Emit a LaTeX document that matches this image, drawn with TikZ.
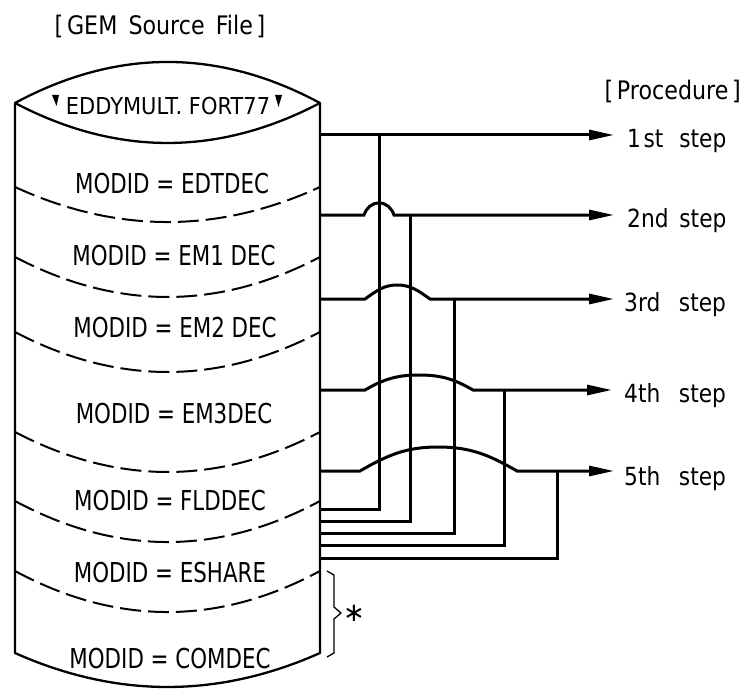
\documentclass[tikz,border=0pt]{standalone}
\usepackage{fontspec}
\setmainfont{DejaVu Sans}
\usepackage{graphicx}
\usetikzlibrary{arrows.meta}
\newcommand\hsq[2]{\scalebox{#1}[1]{#2}}
\tikzset{
  cyl/.style={line width=2.3pt, line join=round},
  divider/.style={line width=2pt, dash pattern=on 21pt off 7pt},
  wire/.style={line width=3pt, line join=miter},
  arrowwire/.style={wire, -{Triangle[length=25pt,width=10pt]}},
  modlabel/.style={anchor=base, inner sep=0pt, font=\fontsize{27.4}{30}\selectfont},
  steplabel/.style={anchor=base west, inner sep=0pt, font=\fontsize{25}{28}\selectfont},
  titlelabel/.style={anchor=base, inner sep=0pt, font=\fontsize{25.5}{28}\selectfont},
  bracestyle/.style={line width=1.3pt, line join=round}
}
\begin{document}
\begin{tikzpicture}[x=1pt,y=-1pt]
\useasboundingbox (0,0) rectangle (744,690);

% titles
\node[titlelabel] (gem) at (160,35) {\hsq{0.87}{[\,GEM\hspace{0.5em}Source\hspace{0.5em}File\,]}};
\node[titlelabel, anchor=base east] (proc) at (741,100) {\hsq{0.87}{[\,Procedure\,]}};

% cylinder outline
\draw[cyl] (15,103) .. controls (116.7,48.3) and (218.3,48.3) .. (320,103)
  -- (320,653) .. controls (218.3,698.3) and (116.7,698.3) .. (15,653) -- cycle;
\draw[cyl] (15,103) .. controls (116.7,156.3) and (218.3,156.3) .. (320,103);

% dashed dividers
\draw[divider] (15,187) .. controls (116.7,233.7) and (218.3,233.7) .. (320,187);
\draw[divider] (15,257) .. controls (116.7,310.3) and (218.3,310.3) .. (320,257);
\draw[divider] (15,332) .. controls (116.7,385.3) and (218.3,385.3) .. (320,332);
\draw[divider] (15,432) .. controls (116.7,485.3) and (218.3,485.3) .. (320,432);
\draw[divider] (15,501) .. controls (116.7,555.7) and (218.3,555.7) .. (320,501);
\draw[divider] (15,571) .. controls (116.7,625.7) and (218.3,625.7) .. (320,571);

% module labels
\node[modlabel, font=\fontsize{23.3}{26}\selectfont] (m0) at (168,115) {\hsq{0.9}{EDDYMULT. FORT77}};
\fill (52,95) -- (59,95) -- (56.5,106) -- cycle;
\fill (275,95) -- (282,95) -- (278.5,107) -- cycle;
\node[modlabel] (m1) at (172,193) {\hsq{0.78}{MODID = EDTDEC}};
\node[modlabel] (m2) at (174,265) {\hsq{0.78}{MODID = EM1 DEC}};
\node[modlabel] (m3) at (175,337) {\hsq{0.78}{MODID = EM2 DEC}};
\node[modlabel] (m4) at (174,423) {\hsq{0.78}{MODID = EM3DEC}};
\node[modlabel] (m5) at (170,510) {\hsq{0.78}{MODID = FLDDEC}};
\node[modlabel] (m6) at (170,582) {\hsq{0.78}{MODID = ESHARE}};
\node[modlabel] (m7) at (170,668) {\hsq{0.78}{MODID = COMDEC}};

% step labels
\node[steplabel] (l1) at (627,147) {\hsq{0.87}{\makebox[60pt][l]{1\hspace{0.12em}st}step}};
\node[steplabel] (l2) at (627,227) {\hsq{0.87}{\makebox[60pt][l]{2nd}step}};
\node[steplabel] (l3) at (624,311) {\hsq{0.87}{\makebox[63pt][l]{3rd}step}};
\node[steplabel] (l4) at (624,402) {\hsq{0.87}{\makebox[63pt][l]{4th}step}};
\node[steplabel] (l5) at (624,485) {\hsq{0.87}{\makebox[63pt][l]{5th}step}};

% connector coordinates
\coordinate (o1) at (320,135); \coordinate (t1) at (614,135);
\coordinate (o2) at (320,215); \coordinate (t2) at (614,215);
\coordinate (o3) at (320,299); \coordinate (t3) at (614,299);
\coordinate (o4) at (320,390); \coordinate (t4) at (612,390);
\coordinate (o5) at (320,471); \coordinate (t5) at (614,471);
\coordinate (j1) at (379,135);
\coordinate (j2) at (410,215);
\coordinate (j3) at (454,299);
\coordinate (j4) at (504,390);
\coordinate (j5) at (557,471);
\coordinate (r1) at (320,509);
\coordinate (r2) at (320,521);
\coordinate (r3) at (320,533);
\coordinate (r4) at (320,545);
\coordinate (r5) at (320,558);

% step lines with hops
\draw[arrowwire] (o1) -- (t1);
\draw[arrowwire] (o2) -- (364,215) to[out=70,in=180] (379,203) to[out=0,in=110] (394,215) -- (t2);
\draw[arrowwire] (o3) -- (365,299) to[out=35,in=180] (397,285) to[out=0,in=145] (430,299) -- (t3);
\draw[arrowwire] (o4) -- (365,390) to[out=30,in=180] (419,375) to[out=0,in=150] (473,390) -- (t4);
\draw[arrowwire] (o5) -- (360,471) to[out=30,in=180] (438,447) to[out=0,in=150] (517,471) -- (t5);

% return lines
\draw[wire] (r1) -| (j1);
\draw[wire] (r2) -| (j2);
\draw[wire] (r3) -| (j3);
\draw[wire] (r4) -| (j4);
\draw[wire] (r5) -| (j5);

% brace and asterisk
\draw[bracestyle] (327,571) -- (334,575) -- (334,607) -- (341,613) -- (334,619) -- (334,653) -- (327,657);
\node[inner sep=0pt, font=\fontsize{26}{28}\selectfont] (ast) at (354,613) {∗};
\end{tikzpicture}
\end{document}
